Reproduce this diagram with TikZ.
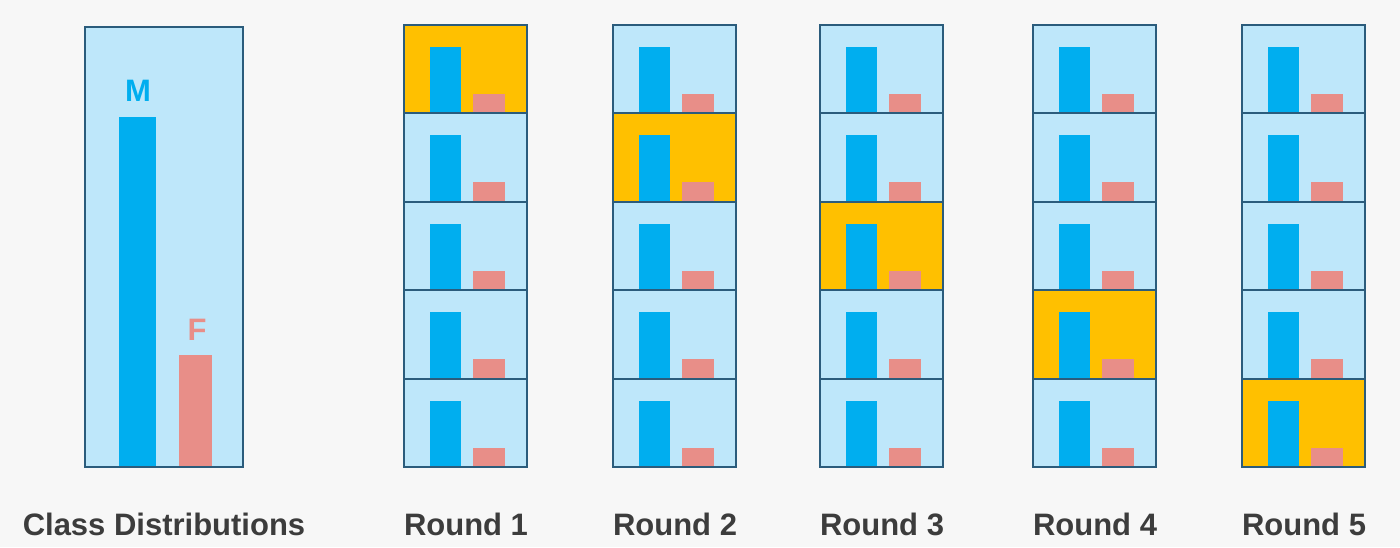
\documentclass[tikz,border=0pt]{standalone}
\usepackage{fontspec}
\setmainfont{Liberation Sans}
\usepackage{xcolor}
\definecolor{vizBack}{HTML}{F7F7F7}
\definecolor{vizCell}{HTML}{BEE7FA}
\definecolor{vizEdge}{HTML}{2B5C7C}
\definecolor{vizMale}{HTML}{00AEEF}
\definecolor{vizFemale}{HTML}{E88E88}
\definecolor{vizHold}{HTML}{FFC000}
\definecolor{vizText}{HTML}{3C3C3C}

\begin{document}
\begin{tikzpicture}[x=0.5pt, y=-0.5pt]
  \filldraw[fill=vizBack, draw=none] (0,0) rectangle (1400,547);
  % class distributions
  \filldraw[fill=vizCell, draw=vizEdge, line width=1pt] (85,27) rectangle (243,467);
  \fill[vizMale] (119,117) rectangle (156,467);
  \fill[vizFemale] (179,355) rectangle (212,467);
  \draw[vizEdge, line width=1pt] (85,27) rectangle (243,467);
  \node[font=\bfseries\fontsize{15.5}{18}\selectfont, text=vizMale] (M) at (138,91) {M};
  \node[font=\bfseries\fontsize{15.5}{18}\selectfont, text=vizFemale] (F) at (197,330) {F};
  \node[font=\bfseries\fontsize{15.5}{18}\selectfont, text=vizText] (classes) at (164,524) {Class Distributions};
  % rounds
  \foreach \r/\x in {1/404, 2/613, 3/820, 4/1033, 5/1242} {
    \foreach \k in {0,...,4} {
      \pgfmathsetmacro\y{25+88.4*\k}
      \ifnum\numexpr\r-1\relax=\k
        \fill[vizHold] (\x,\y) rectangle ++(123,88.4);
      \else
        \fill[vizCell] (\x,\y) rectangle ++(123,88.4);
      \fi
      \fill[vizMale] (\x+26,\y+22) rectangle (\x+57,\y+88.4);
      \fill[vizFemale] (\x+69,\y+69) rectangle (\x+101,\y+88.4);
      \draw[vizEdge, line width=1pt] (\x,\y) rectangle ++(123,88.4);
    }
    \node[font=\bfseries\fontsize{15.5}{18}\selectfont, text=vizText] (round\r) at (\x+62,524) {Round \r};
  }
\end{tikzpicture}
\end{document}
